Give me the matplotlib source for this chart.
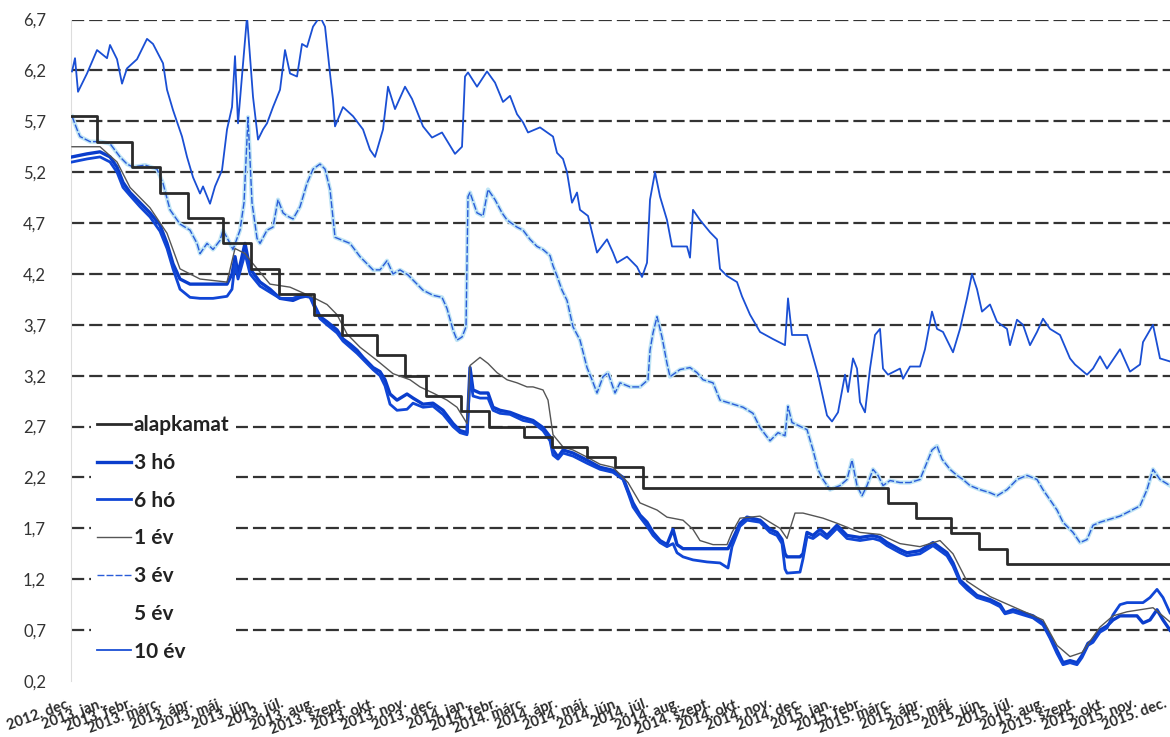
import numpy as np
import pandas as pd
import matplotlib
matplotlib.use('Agg')
import matplotlib.pyplot as plt

plt.rcParams['font.family'] = ['Lato', 'DejaVu Sans']
plt.rcParams['lines.scale_dashes'] = False

# napok 2012-12-19 óta
kezdet = pd.Timestamp('2012-12-19')

# alapkamat (hatálybalépés napja)
alap_datum = ['2012-12-19', '2013-01-23', '2013-02-27', '2013-03-27', '2013-04-24',
              '2013-05-29', '2013-06-26', '2013-07-24', '2013-08-28', '2013-09-25',
              '2013-10-30', '2013-11-27', '2013-12-18', '2014-01-22', '2014-02-19',
              '2014-03-26', '2014-04-23', '2014-05-28', '2014-06-25', '2014-07-23',
              '2015-03-25', '2015-04-22', '2015-05-27', '2015-06-24', '2015-07-22',
              '2016-01-01']
alap_ertek = [5.75, 5.50, 5.25, 5.00, 4.75, 4.50, 4.25, 4.00, 3.80, 3.60, 3.40, 3.20,
              3.00, 2.85, 2.70, 2.60, 2.50, 2.40, 2.30, 2.10, 1.95, 1.80, 1.65, 1.50,
              1.35, 1.35]

# 3 hó és 6 hó (közös napok)
rovid_nap = [10, 25, 38, 48, 55, 61, 68, 78, 88, 98,
             105, 111, 118, 128, 138, 151, 165, 170, 173, 176,
             183, 188, 198, 208, 218, 231, 238, 248, 253, 258,
             265, 275, 281, 288, 295, 301, 311, 318, 323, 328,
             335, 345, 351, 361, 371, 381, 391, 398, 405, 408,
             411, 418, 426, 431, 438, 448, 461, 471, 481, 488,
             491, 496, 501, 511, 525, 538, 551, 561, 566, 571,
             578, 585, 591, 598, 605, 611, 615, 621, 631, 645,
             658, 666, 670, 678, 685, 698, 708, 715, 720, 723,
             725, 738, 741, 745, 751, 758, 765, 775, 785, 798,
             811, 818, 825, 838, 845, 858, 871, 885, 891, 898,
             905, 915, 928, 938, 943, 951, 961, 971, 981, 988,
             995, 1001, 1008, 1015, 1020, 1026, 1031, 1038, 1045, 1051,
             1058, 1065, 1075, 1081, 1088, 1095, 1101, 1108]
ho3 = [5.35, 5.38, 5.40, 5.35, 5.25, 5.10, 5.00, 4.90, 4.80, 4.68,
       4.50, 4.30, 4.15, 4.10, 4.10, 4.10, 4.10, 4.20, 4.37, 4.20,
       4.50, 4.25, 4.12, 4.05, 3.96, 3.94, 3.97, 3.99, 3.88, 3.78,
       3.73, 3.65, 3.56, 3.51, 3.45, 3.38, 3.28, 3.24, 3.16, 3.02,
       2.96, 3.02, 2.98, 2.92, 2.93, 2.86, 2.73, 2.66, 2.64, 3.28,
       3.06, 3.03, 3.03, 2.89, 2.86, 2.84, 2.79, 2.76, 2.69, 2.60,
       2.47, 2.40, 2.47, 2.44, 2.37, 2.30, 2.27, 2.20, 2.07, 1.95,
       1.83, 1.76, 1.66, 1.58, 1.54, 1.69, 1.54, 1.50, 1.50, 1.50,
       1.50, 1.50, 1.58, 1.75, 1.81, 1.78, 1.69, 1.66, 1.59, 1.45,
       1.42, 1.42, 1.45, 1.66, 1.63, 1.69, 1.63, 1.73, 1.63, 1.61,
       1.63, 1.61, 1.56, 1.49, 1.46, 1.48, 1.56, 1.46, 1.36, 1.19,
       1.13, 1.04, 1.00, 0.95, 0.87, 0.90, 0.87, 0.84, 0.77, 0.64,
       0.50, 0.38, 0.40, 0.38, 0.45, 0.57, 0.60, 0.70, 0.74, 0.80,
       0.84, 0.84, 0.84, 0.77, 0.80, 0.90, 0.80, 0.70]
ho6 = [5.30, 5.33, 5.35, 5.30, 5.20, 5.05, 4.97, 4.86, 4.76, 4.62,
       4.45, 4.25, 4.05, 3.97, 3.96, 3.96, 3.98, 4.05, 4.30, 4.15,
       4.40, 4.20, 4.08, 4.02, 3.96, 3.96, 3.99, 3.97, 3.86, 3.76,
       3.70, 3.62, 3.54, 3.48, 3.42, 3.36, 3.26, 3.20, 3.10, 2.92,
       2.86, 2.87, 2.93, 2.89, 2.90, 2.82, 2.70, 2.64, 2.62, 3.20,
       3.00, 2.98, 2.98, 2.86, 2.83, 2.82, 2.76, 2.74, 2.66, 2.56,
       2.42, 2.38, 2.44, 2.41, 2.34, 2.28, 2.25, 2.18, 2.05, 1.91,
       1.81, 1.72, 1.63, 1.56, 1.52, 1.55, 1.46, 1.42, 1.39, 1.37,
       1.36, 1.31, 1.52, 1.72, 1.78, 1.76, 1.66, 1.63, 1.55, 1.30,
       1.26, 1.27, 1.40, 1.62, 1.60, 1.65, 1.60, 1.70, 1.60, 1.58,
       1.60, 1.58, 1.53, 1.46, 1.43, 1.45, 1.53, 1.43, 1.33, 1.17,
       1.10, 1.02, 0.98, 0.93, 0.86, 0.88, 0.85, 0.82, 0.75, 0.62,
       0.47, 0.36, 0.38, 0.36, 0.43, 0.55, 0.58, 0.68, 0.72, 0.85,
       0.95, 0.97, 0.97, 0.97, 1.02, 1.10, 1.02, 0.87]

ev1_nap = [10, 25, 38, 55, 68, 88, 105, 118, 138, 165, 173, 183, 191, 208, 228,
           251, 265, 275, 285, 298, 315, 331, 348, 358, 371, 385, 395, 405, 408,
           418, 426, 435, 445, 455, 465, 471, 481, 486, 491, 501, 511, 525, 538,
           551, 566, 578, 595, 605, 621, 631, 638, 651, 665, 670, 678, 698, 718,
           725, 733, 741, 761, 775, 798, 818, 838, 858, 878, 891, 905, 928, 951,
           981, 995, 1008, 1020, 1038, 1051, 1065, 1091, 1108]
ev1 = [5.45, 5.45, 5.45, 5.30, 5.05, 4.85, 4.60, 4.25, 4.15, 4.12, 4.45, 4.40,
       4.30, 4.10, 4.07, 3.97, 3.90, 3.80, 3.61, 3.48, 3.35, 3.22, 3.16, 3.09,
       3.03, 2.96, 2.89, 2.73, 3.30, 3.38, 3.32, 3.23, 3.16, 3.13, 3.09, 3.09,
       3.06, 2.96, 2.62, 2.50, 2.47, 2.40, 2.33, 2.30, 2.15, 1.95, 1.88, 1.81,
       1.78, 1.69, 1.58, 1.54, 1.54, 1.66, 1.80, 1.82, 1.70, 1.60, 1.85, 1.85,
       1.80, 1.75, 1.66, 1.64, 1.55, 1.52, 1.58, 1.45, 1.18, 1.03, 0.93, 0.80,
       0.55, 0.44, 0.48, 0.73, 0.84, 0.88, 0.92, 0.78]

ev3_nap = [10, 15, 18, 28, 38, 48, 58, 65, 71, 83, 95, 101, 108, 118, 128, 135,
           138, 145, 151, 158, 161, 168, 171, 178, 182, 186, 190, 195, 198, 205,
           211, 216, 221, 225, 231, 238, 245, 251, 258, 263, 268, 273, 278, 288,
           298, 305, 311, 318, 325, 331, 338, 346, 351, 361, 371, 380, 385, 391,
           395, 400, 404, 406, 408, 415, 421, 426, 433, 440, 445, 455, 461, 468,
           475, 481, 488, 491, 495, 500, 505, 511, 518, 525, 530, 535, 541, 546,
           553, 558, 568, 578, 586, 588, 591, 595, 600, 605, 608, 618, 628, 635,
           641, 651, 658, 668, 681, 691, 698, 708, 716, 723, 726, 730, 745, 751,
           756, 761, 768, 778, 785, 790, 795, 800, 805, 811, 816, 821, 828, 838,
           848, 858, 865, 870, 875, 880, 888, 895, 901, 908, 918, 928, 935, 945,
           955, 965, 975, 981, 988, 995, 1001, 1011, 1018, 1025, 1031, 1038, 1048,
           1058, 1068, 1078, 1085, 1091, 1098, 1108]
ev3 = [5.75, 5.62, 5.55, 5.50, 5.50, 5.48, 5.35, 5.28, 5.25, 5.27, 5.23, 5.09,
       4.83, 4.69, 4.63, 4.50, 4.40, 4.50, 4.44, 4.53, 4.63, 4.50, 4.44, 4.63,
       4.90, 5.74, 4.90, 4.55, 4.50, 4.63, 4.66, 4.93, 4.80, 4.77, 4.74, 4.86,
       5.09, 5.23, 5.28, 5.23, 5.03, 4.56, 4.54, 4.50, 4.37, 4.30, 4.24, 4.24,
       4.33, 4.20, 4.24, 4.19, 4.14, 4.04, 3.99, 3.97, 3.86, 3.65, 3.55, 3.58,
       3.68, 4.96, 5.00, 4.80, 4.77, 5.03, 4.93, 4.80, 4.73, 4.66, 4.63, 4.54,
       4.47, 4.44, 4.38, 4.28, 4.18, 4.04, 3.94, 3.68, 3.55, 3.28, 3.16, 3.03,
       3.19, 3.23, 3.03, 3.13, 3.09, 3.09, 3.16, 3.45, 3.62, 3.78, 3.58, 3.32,
       3.19, 3.26, 3.28, 3.23, 3.16, 3.13, 2.96, 2.93, 2.89, 2.83, 2.69, 2.56,
       2.64, 2.61, 2.90, 2.74, 2.67, 2.47, 2.28, 2.18, 2.08, 2.12, 2.18, 2.37,
       2.12, 2.02, 2.12, 2.28, 2.22, 2.12, 2.17, 2.15, 2.15, 2.18, 2.35, 2.47,
       2.51, 2.38, 2.28, 2.22, 2.18, 2.12, 2.08, 2.05, 2.02, 2.08, 2.18, 2.22,
       2.18, 2.08, 1.98, 1.88, 1.76, 1.66, 1.56, 1.59, 1.73, 1.76, 1.79, 1.82,
       1.87, 1.92, 2.08, 2.28, 2.18, 2.12]

ev5 = []  # a képen nem látszik

ev10_nap = [10, 13, 16, 25, 35, 45, 48, 55, 60, 65, 75, 85, 91, 101, 105, 111,
            120, 125, 131, 138, 141, 148, 153, 160, 165, 170, 173, 176, 185, 191,
            196, 201, 205, 211, 218, 223, 228, 235, 240, 245, 251, 258, 263, 268,
            271, 273, 281, 291, 301, 308, 313, 321, 326, 333, 343, 350, 361, 370,
            380, 393, 400, 403, 406, 415, 425, 433, 441, 448, 455, 461, 466, 478,
            491, 495, 501, 505, 510, 515, 518, 526, 530, 535, 545, 551, 555, 565,
            575, 580, 585, 588, 593, 598, 605, 610, 618, 625, 628, 631, 638, 648,
            655, 658, 665, 675, 680, 688, 698, 711, 723, 726, 730, 745, 756, 765,
            770, 776, 783, 786, 791, 795, 798, 803, 808, 813, 818, 821, 826, 838,
            841, 848, 858, 863, 870, 875, 881, 891, 898, 905, 910, 915, 920, 928,
            935, 945, 948, 955, 961, 968, 975, 981, 988, 998, 1008, 1013, 1025,
            1031, 1038, 1045, 1058, 1068, 1078, 1081, 1091, 1098, 1108]
ev10 = [6.19, 6.32, 5.99, 6.17, 6.40, 6.32, 6.45, 6.31, 6.07, 6.22, 6.31, 6.51,
        6.46, 6.27, 6.01, 5.81, 5.55, 5.35, 5.15, 4.99, 5.06, 4.89, 5.06, 5.22,
        5.62, 5.84, 6.34, 5.68, 6.73, 5.94, 5.52, 5.62, 5.68, 5.84, 6.01, 6.40,
        6.17, 6.14, 6.46, 6.43, 6.63, 6.73, 6.63, 6.17, 5.91, 5.65, 5.84, 5.75,
        5.62, 5.42, 5.35, 5.62, 6.04, 5.82, 6.04, 5.92, 5.65, 5.54, 5.59, 5.38,
        5.45, 6.14, 6.18, 6.04, 6.19, 6.08, 5.89, 5.95, 5.77, 5.69, 5.59, 5.64,
        5.55, 5.39, 5.33, 5.20, 4.90, 5.00, 4.83, 4.77, 4.61, 4.41, 4.54, 4.41,
        4.31, 4.37, 4.27, 4.17, 4.31, 4.93, 5.20, 4.96, 4.73, 4.47, 4.47, 4.47,
        4.36, 4.83, 4.73, 4.61, 4.54, 4.25, 4.18, 4.12, 3.98, 3.80, 3.63, 3.56,
        3.50, 3.96, 3.60, 3.60, 3.21, 2.81, 2.75, 2.84, 3.21, 3.04, 3.37, 3.27,
        2.94, 2.84, 3.27, 3.60, 3.66, 3.27, 3.21, 3.27, 3.17, 3.29, 3.29, 3.46,
        3.83, 3.66, 3.63, 3.43, 3.66, 3.96, 4.20, 4.05, 3.83, 3.90, 3.73, 3.66,
        3.50, 3.75, 3.70, 3.50, 3.63, 3.76, 3.66, 3.60, 3.37, 3.31, 3.21, 3.27,
        3.39, 3.27, 3.46, 3.24, 3.31, 3.53, 3.70, 3.37, 3.34]

honap_nev = {1: 'jan.', 2: 'febr.', 3: 'márc.', 4: 'ápr.', 5: 'máj.', 6: 'jún.',
             7: 'júl.', 8: 'aug.', 9: 'szept.', 10: 'okt.', 11: 'nov.', 12: 'dec.'}
y_ticks = [0.2, 0.7, 1.2, 1.7, 2.2, 2.7, 3.2, 3.7, 4.2, 4.7, 5.2, 5.7, 6.2, 6.7]


def datumok(napok):
    return (kezdet + pd.to_timedelta(napok, unit='D')).to_numpy()


kek = '#0a3dcc'
fig = plt.figure(figsize=(11.7, 7.37), dpi=100)
ax = fig.add_axes([0.0607, 0.076, 0.9393, 0.8975])

ax.plot(pd.to_datetime(alap_datum).to_numpy(), alap_ertek, color='#2a2a2a', lw=2.0,
        drawstyle='steps-post', label='alapkamat', zorder=4)
ax.plot(datumok(rovid_nap), ho3, color=kek, lw=2.4, label='3 hó', zorder=3)
ax.plot(datumok(rovid_nap), ho6, color='#1046d6', lw=2.0, label='6 hó', zorder=3)
ax.plot(datumok(ev1_nap), ev1, color='#555555', lw=1.0, label='1 év', zorder=3)
ax.plot(datumok(ev3_nap), ev3, color='#bfe4f5', lw=3.0, zorder=2)
ax.plot(datumok(ev3_nap), ev3, color='#2a5cd8', lw=1.0, ls=(0, (5, 1.5)),
        label='3 év', zorder=3)
ax.plot(datumok(ev5), ev5, color='white', lw=2.0, label='5 év')
ax.plot(datumok(ev10_nap), ev10, color='#1a4fd4', lw=1.3, label='10 év', zorder=3)

ax.set_ylim(0.2, 6.7)
ax.set_xlim(pd.Timestamp('2012-12-28'), pd.Timestamp('2016-01-01'))
ax.set_yticks(y_ticks, [f'{v:.1f}'.replace('.', ',') for v in y_ticks])

tick_dates = pd.date_range('2012-12-28', '2015-12-28', freq=pd.DateOffset(months=1))
ax.set_xticks(tick_dates.to_numpy(),
              [f'{d.year}. {honap_nev[d.month]}' for d in tick_dates])
plt.setp(ax.get_xticklabels(), rotation=20, ha='right', va='center',
         rotation_mode='anchor', fontsize=10.5, fontweight='bold', color='#2b2b2b')
ax.tick_params(axis='x', length=0, pad=16)
ax.tick_params(axis='y', length=0, pad=18, labelsize=12, labelcolor='#333333')

ax.yaxis.grid(True, color='#333333', lw=1.6, ls=(0, (9.5, 3.6)))
ax.get_ygridlines()[0].set_visible(False)
ax.set_axisbelow(True)
for s in ['top', 'right', 'bottom']:
    ax.spines[s].set_visible(False)
ax.spines['left'].set_color('#dddddd')
ax.spines['left'].set_linewidth(0.8)

leg = ax.legend(loc='upper left', bbox_to_anchor=(0.0778, 0.445),
                bbox_transform=fig.transFigure, frameon=True, facecolor='white',
                edgecolor='none', framealpha=1, fancybox=False, borderpad=0.3,
                borderaxespad=0, handlelength=1.6, handletextpad=0.15,
                labelspacing=0.85, prop={'size': 15, 'weight': 'bold'})
for t in leg.get_texts():
    t.set_color('#222222')

fig.savefig('out.png', dpi=100)
